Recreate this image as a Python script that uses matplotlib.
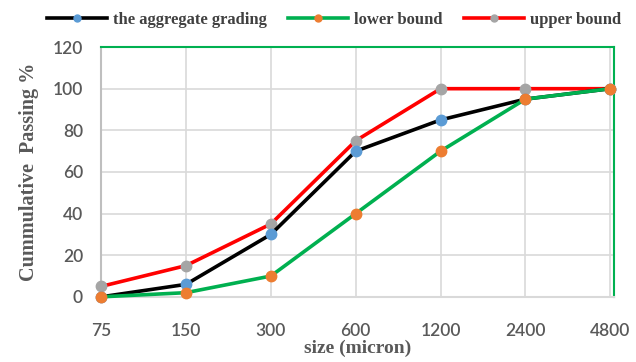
import matplotlib
matplotlib.use("Agg")
import matplotlib.pyplot as plt
from matplotlib.lines import Line2D

sizes = ["75", "150", "300", "600", "1200", "2400", "4800"]
aggregate = [0, 6, 30, 70, 85, 95, 100]
lower = [0, 2, 10, 40, 70, 95, 100]
upper = [5, 15, 35, 75, 100, 100, 100]

fig = plt.figure(figsize=(6.36, 3.62), dpi=100)
ax = fig.add_axes([0.159, 0.18, 0.806, 0.69])

x = list(range(len(sizes)))
ax.plot(x, upper, color="#FF0000", lw=2.6, marker="o", ms=7.5,
        mfc="#A5A5A5", mec="#A5A5A5", zorder=3, clip_on=False)
ax.plot(x, aggregate, color="#000000", lw=2.6, marker="o", ms=7.5,
        mfc="#5B9BD5", mec="#5B9BD5", zorder=4, clip_on=False)
ax.plot(x, lower, color="#00B050", lw=2.6, marker="o", ms=7.5,
        mfc="#ED7D31", mec="#ED7D31", zorder=5, clip_on=False)

ax.set_xlim(0, 6.04)
ax.set_ylim(0, 120)
ax.set_xticks(x)
ax.set_xticklabels(sizes)
ax.set_yticks(range(0, 121, 20))
ax.grid(True, color="#D9D9D9", lw=1.2)
ax.set_axisbelow(True)
for lab in ax.get_xticklabels() + ax.get_yticklabels():
    lab.set_fontfamily("Lato")
    lab.set_fontsize(12.5)
    lab.set_color("#595959")
    lab.set_fontweight("semibold")
ax.tick_params(axis="y", length=0, pad=13)
ax.tick_params(axis="x", length=0, pad=19)

ax.spines["left"].set_color("#BFBFBF")
ax.spines["bottom"].set_color("#D9D9D9")
ax.spines["top"].set_color("#00B050")
ax.spines["right"].set_color("#00B050")
for s in ax.spines.values():
    s.set_linewidth(1.5)

ax.set_xlabel("size (micron)", family="Liberation Serif", fontsize=14,
              fontweight="bold", color="#595959", labelpad=0)
ax.set_ylabel("Cummulative  Passing %", family="Liberation Serif", fontsize=14.5,
              fontweight="bold", color="#595959", labelpad=10)

handles = [
    Line2D([], [], color="#000000", lw=2.6, marker="o", ms=5, mfc="#5B9BD5", mec="#5B9BD5"),
    Line2D([], [], color="#00B050", lw=2.6, marker="o", ms=5, mfc="#ED7D31", mec="#ED7D31"),
    Line2D([], [], color="#FF0000", lw=2.6, marker="o", ms=5, mfc="#A5A5A5", mec="#A5A5A5"),
]
labels = ["the aggregate grading", "lower bound", "upper bound"]
fig.legend(handles, labels, loc="center", bbox_to_anchor=(0.525, 0.945), ncol=3,
           frameon=False, prop={"family": "Liberation Serif", "size": 12, "weight": "bold"},
           labelcolor="#404040", handlelength=3.6, columnspacing=1.3, handletextpad=0.35)

fig.savefig("out.png", dpi=100)
